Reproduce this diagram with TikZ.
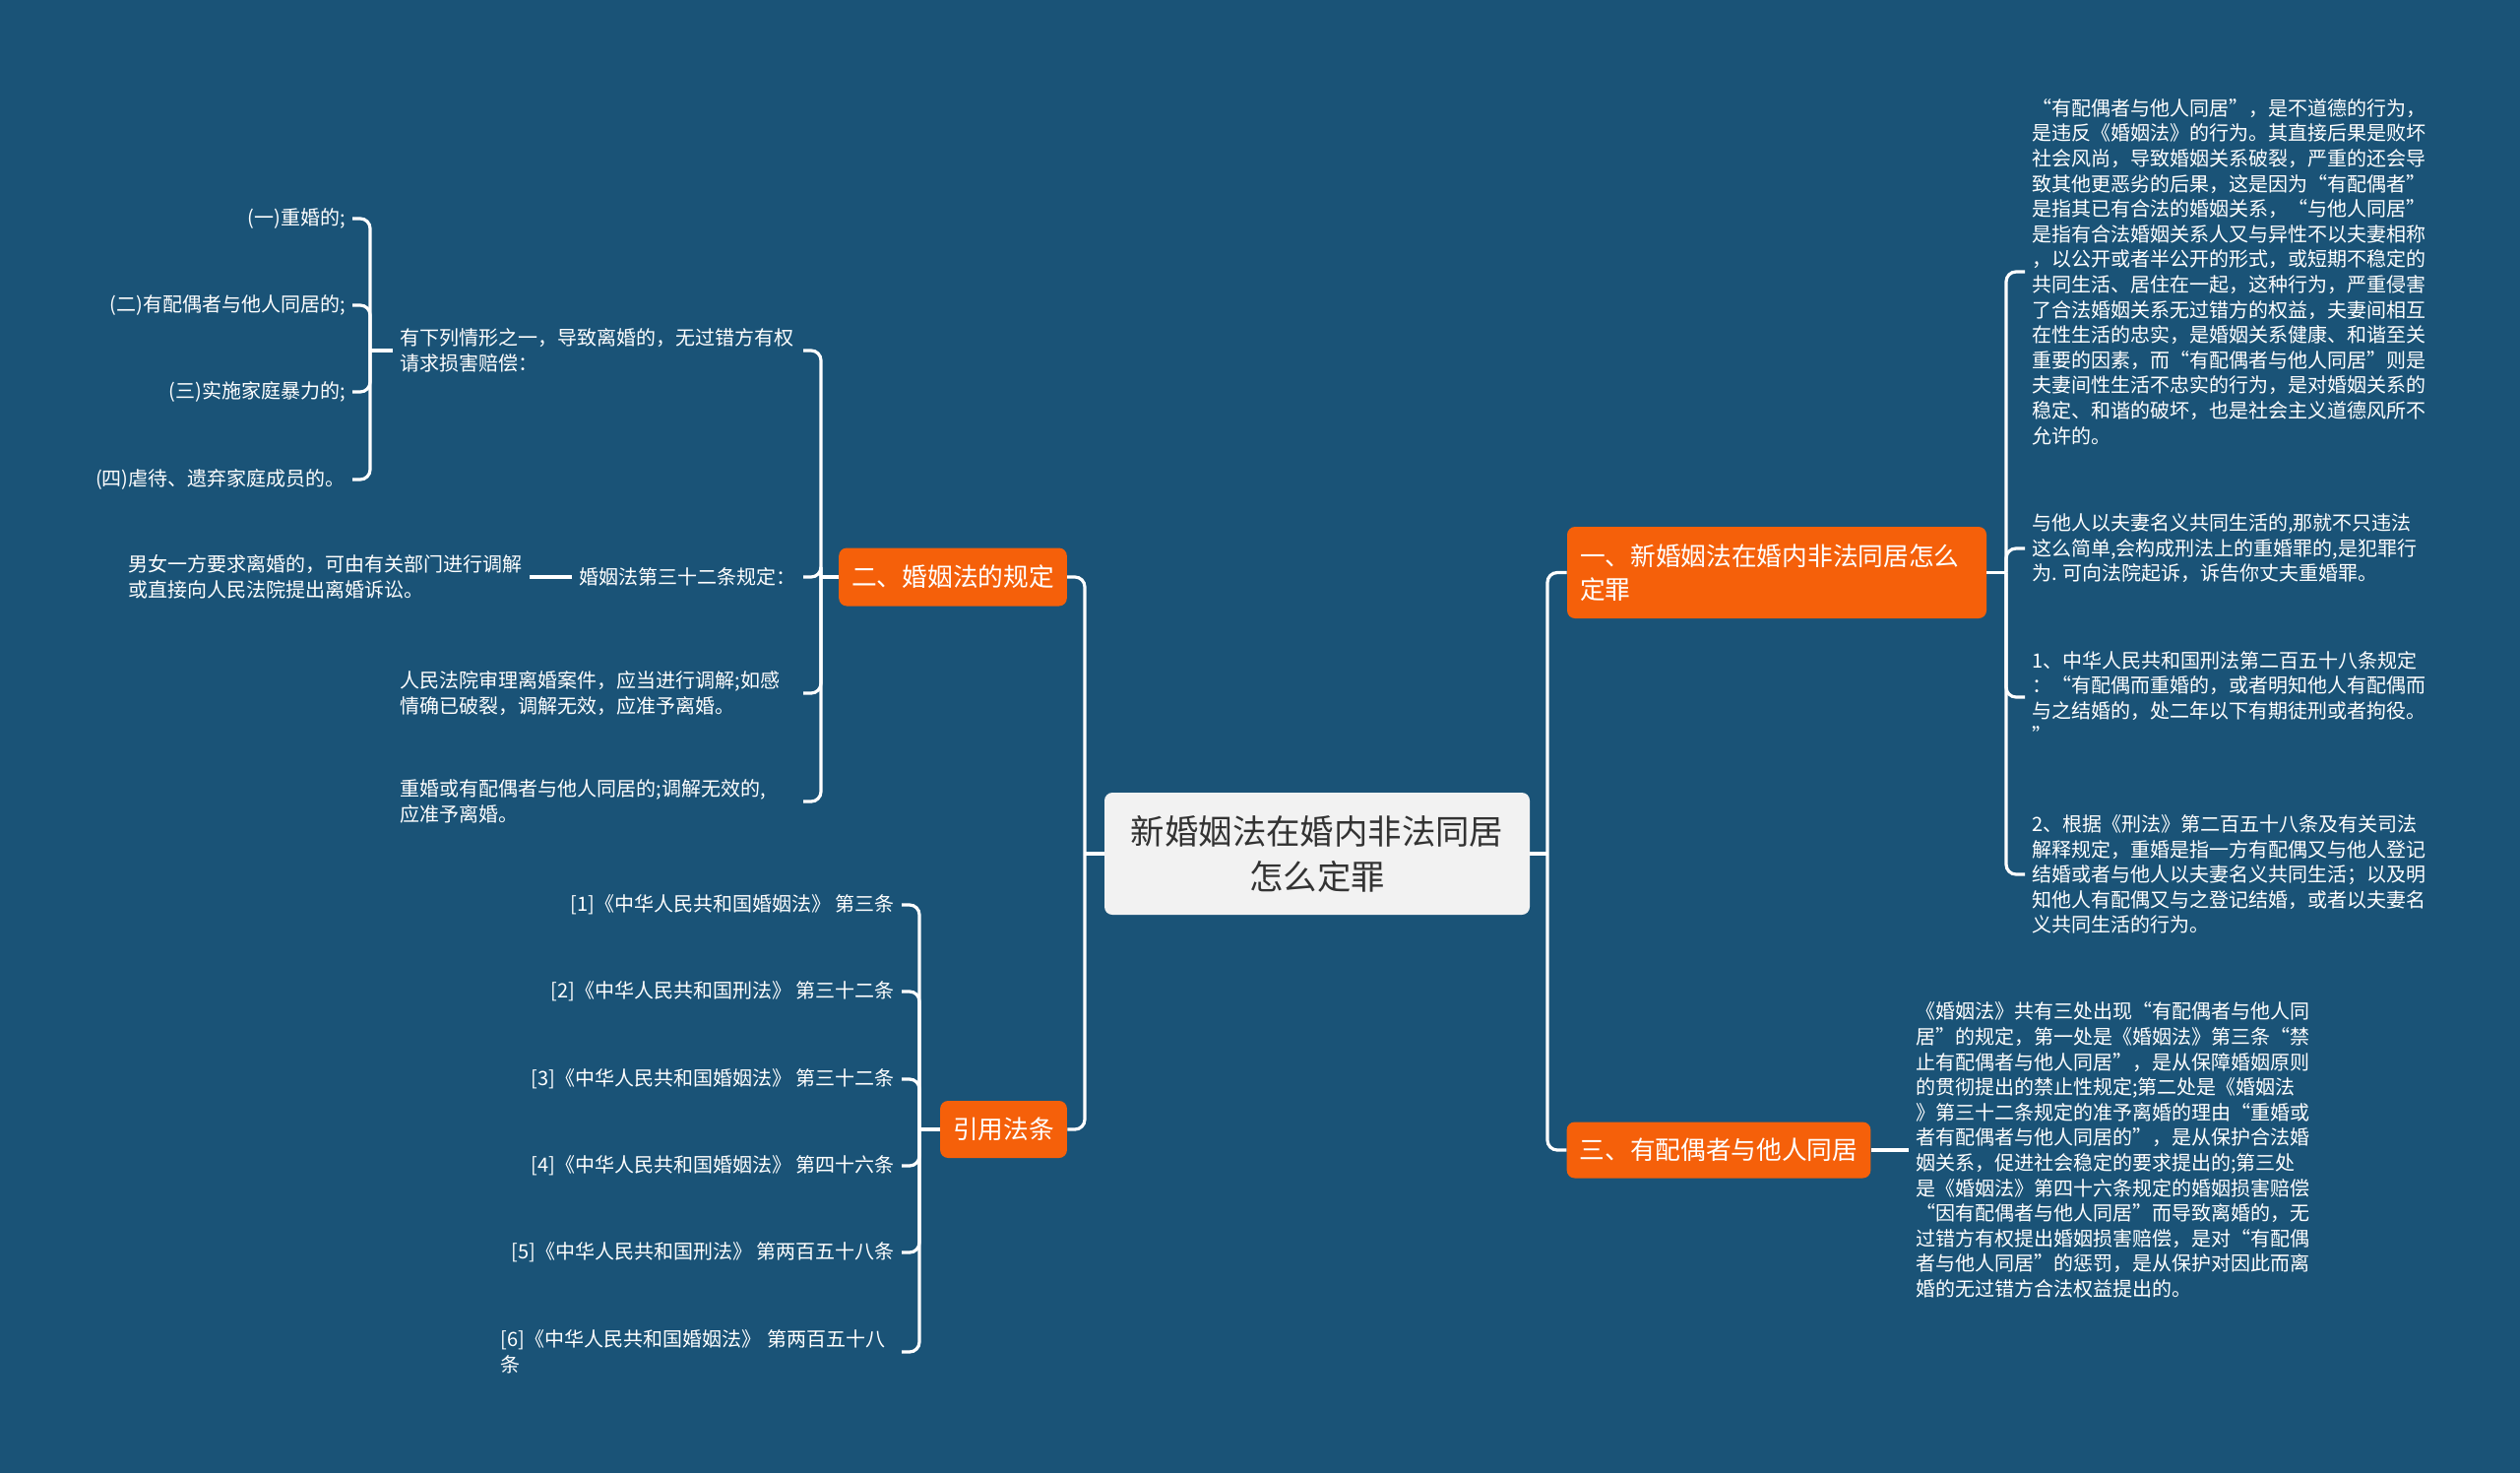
\documentclass[tikz,border=0pt]{standalone}
\usepackage{fontspec}
\setmainfont{Noto Sans CJK SC}
\definecolor{bg}{HTML}{1A5377}
\definecolor{org}{HTML}{F5600A}
\definecolor{ctr}{HTML}{F2F2F2}
\definecolor{ctrtext}{HTML}{333333}
\begin{document}
\begin{tikzpicture}[x=0.5pt,y=-0.5pt,
  conn/.style={draw=white, line width=1.6pt, rounded corners=5pt},
  leaf/.style={text=white, font=\fontsize{10}{12.8}\selectfont, inner sep=3.5pt, align=left},
  wideleaf/.style={leaf, text width=201pt},
  branch/.style={fill=org, text=white, rounded corners=4pt, font=\fontsize{12.85}{17}\selectfont, inner xsep=6.5pt, inner ysep=0pt, align=left},
  rootbox/.style={fill=ctr, rounded corners=4pt, text=ctrtext, font=\fontsize{17.2}{22.9}\selectfont, minimum width=216pt, minimum height=62pt, align=center, inner sep=0pt}
]
\fill[bg] (0,0) rectangle (2560,1496);
\useasboundingbox (0,0) rectangle (2560,1496);

% root
\node[rootbox] (root) at (1338,867) {新婚姻法在婚内非法同居\\怎么定罪};

% main branches
\node[branch, minimum height=46.5pt, text width=200pt] (r1) at (1805,581.5) {一、新婚姻法在婚内非法同居怎么\\定罪};
\node[branch, minimum height=28.5pt] (r3) at (1746,1168) {三、有配偶者与他人同居};
\node[branch, minimum height=29.5pt] (l2) at (968,586) {二、婚姻法的规定};
\node[branch, minimum height=29pt] (l4) at (1019.5,1147) {引用法条};

\coordinate (rj) at (1572,867);
\coordinate (lj) at (1102,867);
\draw[conn] (root.east) -- (rj);
\draw[conn] (rj) |- (r1.west);
\draw[conn] (rj) |- (r3.west);
\draw[conn] (root.west) -- (lj);
\draw[conn] (lj) |- (l2.east);
\draw[conn] (lj) |- (l4.east);

% right branch 1 leaves
\node[leaf, anchor=west] (r1a) at (2057,276) {“有配偶者与他人同居”，是不道德的行为，\\是违反《婚姻法》的行为。其直接后果是败坏\\社会风尚，导致婚姻关系破裂，严重的还会导\\致其他更恶劣的后果，这是因为“有配偶者”\\是指其已有合法的婚姻关系，“与他人同居”\\是指有合法婚姻关系人又与异性不以夫妻相称\\，以公开或者半公开的形式，或短期不稳定的\\共同生活、居住在一起，这种行为，严重侵害\\了合法婚姻关系无过错方的权益，夫妻间相互\\在性生活的忠实，是婚姻关系健康、和谐至关\\重要的因素，而“有配偶者与他人同居”则是\\夫妻间性生活不忠实的行为，是对婚姻关系的\\稳定、和谐的破坏，也是社会主义道德风所不\\允许的。};
\node[leaf, anchor=west] (r1b) at (2057,557) {与他人以夫妻名义共同生活的,那就不只违法\\这么简单,会构成刑法上的重婚罪的,是犯罪行\\为. 可向法院起诉，诉告你丈夫重婚罪。};
\node[leaf, anchor=west] (r1c) at (2057,708) {1、中华人民共和国刑法第二百五十八条规定\\：“有配偶而重婚的，或者明知他人有配偶而\\与之结婚的，处二年以下有期徒刑或者拘役。\\”};
\node[leaf, anchor=west] (r1d) at (2057,888) {2、根据《刑法》第二百五十八条及有关司法\\解释规定，重婚是指一方有配偶又与他人登记\\结婚或者与他人以夫妻名义共同生活；以及明\\知他人有配偶又与之登记结婚，或者以夫妻名\\义共同生活的行为。};
\coordinate (r1j) at (2038,581.5);
\draw[conn] (r1.east) -- (r1j);
\foreach \c in {r1a,r1b,r1c,r1d} \draw[conn] (r1j) |- (\c.west);

% right branch 3 leaf
\node[leaf, anchor=west] (r3a) at (1939,1168) {《婚姻法》共有三处出现“有配偶者与他人同\\居”的规定，第一处是《婚姻法》第三条“禁\\止有配偶者与他人同居”，是从保障婚姻原则\\的贯彻提出的禁止性规定;第二处是《婚姻法\\》第三十二条规定的准予离婚的理由“重婚或\\者有配偶者与他人同居的”，是从保护合法婚\\姻关系，促进社会稳定的要求提出的;第三处\\是《婚姻法》第四十六条规定的婚姻损害赔偿\\“因有配偶者与他人同居”而导致离婚的，无\\过错方有权提出婚姻损害赔偿，是对“有配偶\\者与他人同居”的惩罚，是从保护对因此而离\\婚的无过错方合法权益提出的。};
\draw[conn] (r3.east) -- (r3a.west);

% left branch 2 leaves
\node[wideleaf, anchor=east] (l2a) at (816,356) {有下列情形之一，导致离婚的，无过错方有权\\请求损害赔偿：};
\node[leaf, anchor=east] (l2b) at (816,586) {婚姻法第三十二条规定：};
\node[wideleaf, anchor=east] (l2c) at (816,704) {人民法院审理离婚案件，应当进行调解;如感\\情确已破裂，调解无效，应准予离婚。};
\node[wideleaf, anchor=east] (l2d) at (816,814) {重婚或有配偶者与他人同居的;调解无效的,\\应准予离婚。};
\coordinate (l2j) at (834,586);
\draw[conn] (l2.west) -- (l2j);
\foreach \c in {l2a,l2b,l2c,l2d} \draw[conn] (l2j) |- (\c.east);

% grandchildren of l2a
\node[leaf, anchor=east] (g1) at (358,222) {(一)重婚的;};
\node[leaf, anchor=east] (g2) at (358,310) {(二)有配偶者与他人同居的;};
\node[leaf, anchor=east] (g3) at (358,398) {(三)实施家庭暴力的;};
\node[leaf, anchor=east] (g4) at (358,487) {(四)虐待、遗弃家庭成员的。};
\coordinate (l2aj) at (376,356);
\draw[conn] (l2a.west) -- (l2aj);
\foreach \c in {g1,g2,g3,g4} \draw[conn] (l2aj) |- (\c.east);

% grandchild of l2b
\node[leaf, anchor=east] (l2ba) at (538,586) {男女一方要求离婚的，可由有关部门进行调解\\或直接向人民法院提出离婚诉讼。};
\draw[conn] (l2b.west) -- (l2ba.east);

% left branch 4 leaves
\node[leaf, anchor=east] (c1) at (916,919) {[1]《中华人民共和国婚姻法》 第三条};
\node[leaf, anchor=east] (c2) at (916,1007) {[2]《中华人民共和国刑法》 第三十二条};
\node[leaf, anchor=east] (c3) at (916,1096) {[3]《中华人民共和国婚姻法》 第三十二条};
\node[leaf, anchor=east] (c4) at (916,1184) {[4]《中华人民共和国婚姻法》 第四十六条};
\node[leaf, anchor=east] (c5) at (916,1272) {[5]《中华人民共和国刑法》 第两百五十八条};
\node[leaf, anchor=east, text width=200pt] (c6) at (916,1373) {[6]《中华人民共和国婚姻法》 第两百五十八\\条};
\coordinate (l4j) at (934,1147);
\draw[conn] (l4.west) -- (l4j);
\foreach \c in {c1,c2,c3,c4,c5,c6} \draw[conn] (l4j) |- (\c.east);
\end{tikzpicture}
\end{document}
